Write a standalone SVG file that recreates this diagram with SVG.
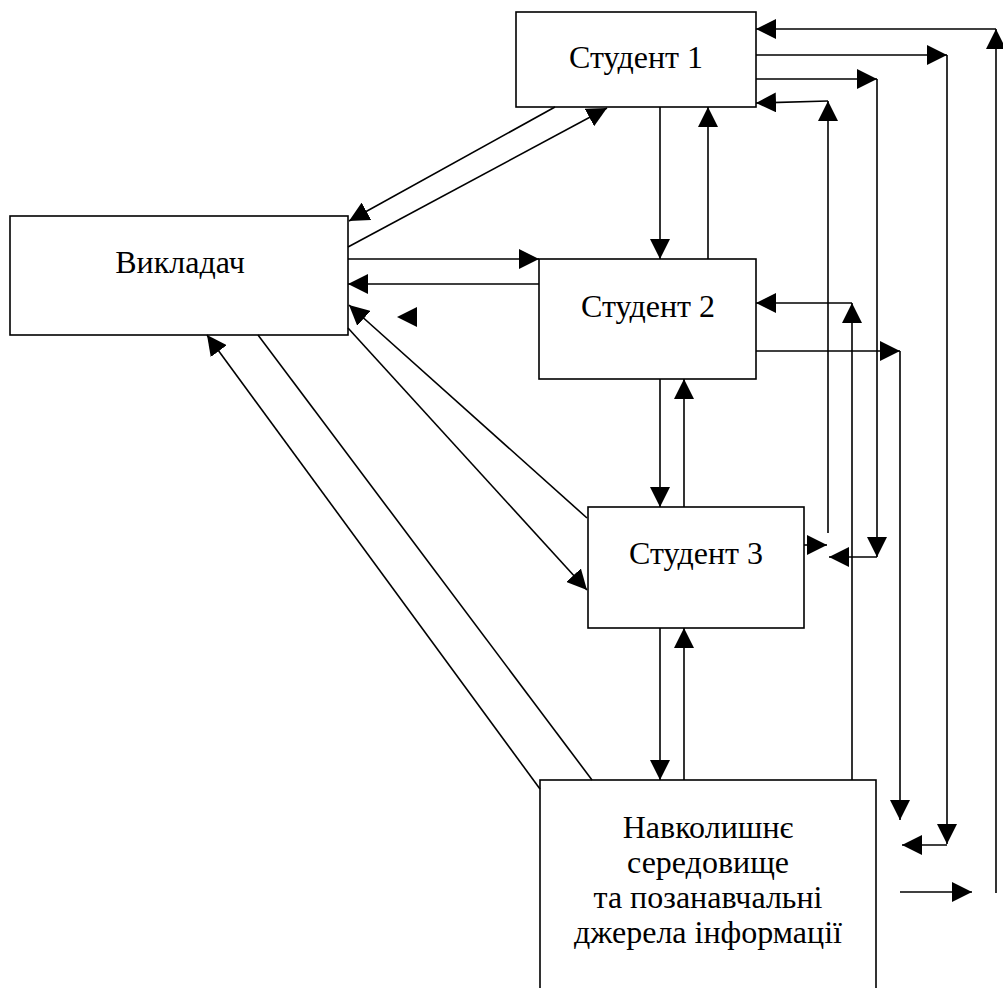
<svg xmlns="http://www.w3.org/2000/svg" width="1003" height="988" viewBox="0 0 1003 988">
<style>
.box{fill:#fff;stroke:#000;stroke-width:1.6}
.lbl{font-family:"Liberation Serif","Times New Roman","DejaVu Serif",serif;font-size:32px;fill:#000;text-anchor:middle}
.c line,.c polyline{stroke:#000;stroke-width:1.6;fill:none}
.a{marker-end:url(#ah)}
</style>
<defs>
<marker id="ah" markerUnits="userSpaceOnUse" markerWidth="20" markerHeight="20" refX="20" refY="10" viewBox="0 0 20 20" orient="auto">
<path d="M0,0 L20,10 L0,20 z" fill="#000"/>
</marker>
</defs>
<g id="student1"><rect class="box" x="516" y="12" width="240" height="95"/><text class="lbl" x="636" y="68">Студент 1</text></g>
<g id="teacher"><rect class="box" x="10" y="216" width="338" height="119"/><text class="lbl" x="180" y="273">Викладач</text></g>
<g id="student2"><rect class="box" x="539" y="259" width="217" height="120"/><text class="lbl" x="648" y="317">Студент 2</text></g>
<g id="student3"><rect class="box" x="588" y="507" width="216" height="121"/><text class="lbl" x="696" y="564">Студент 3</text></g>
<g id="environment"><rect class="box" x="540" y="780" width="336" height="220"/>
<text class="lbl" x="708" y="838">Навколишнє</text>
<text class="lbl" x="708" y="873">середовище</text>
<text class="lbl" x="708" y="908">та позанавчальні</text>
<text class="lbl" x="708" y="943">джерела інформації</text></g>
<g id="connectors" class="c">
<line class="a" x1="555" y1="107" x2="349" y2="221"/>
<line class="a" x1="348" y1="247" x2="607" y2="108"/>
<line class="a" x1="348" y1="259" x2="539" y2="259"/>
<line class="a" x1="539" y1="284" x2="348" y2="284"/>
<path d="M397,317 L417,307 L417,327 z" fill="#000"/>
<line class="a" x1="587" y1="518" x2="349" y2="305"/>
<line class="a" x1="348" y1="328" x2="587" y2="590"/>
<line class="a" x1="540" y1="789" x2="207" y2="335"/>
<line x1="592" y1="780" x2="258" y2="335"/>
<line class="a" x1="660" y1="107" x2="660" y2="259"/>
<line class="a" x1="708" y1="259" x2="708" y2="107"/>
<line class="a" x1="660" y1="379" x2="660" y2="507"/>
<line class="a" x1="684" y1="507" x2="684" y2="379"/>
<line class="a" x1="660" y1="628" x2="660" y2="780"/>
<line class="a" x1="684" y1="780" x2="684" y2="628"/>
<line class="a" x1="996" y1="893" x2="996" y2="29"/>
<line class="a" x1="996" y1="29" x2="756" y2="29"/>
<line class="a" x1="756" y1="55" x2="947" y2="55"/>
<line class="a" x1="947" y1="55" x2="947" y2="844"/>
<line class="a" x1="947" y1="845" x2="902" y2="845"/>
<line class="a" x1="756" y1="79" x2="877" y2="79"/>
<line class="a" x1="877" y1="79" x2="877" y2="557"/>
<line class="a" x1="877" y1="557" x2="829" y2="557"/>
<line class="a" x1="828" y1="533" x2="828" y2="101"/>
<line class="a" x1="828" y1="101" x2="756" y2="103"/>
<line class="a" x1="852" y1="780" x2="852" y2="303"/>
<line class="a" x1="852" y1="303" x2="756" y2="303"/>
<line class="a" x1="756" y1="351" x2="900" y2="351"/>
<line class="a" x1="900" y1="351" x2="900" y2="820"/>
<line class="a" x1="804" y1="545" x2="827" y2="545"/>
<line class="a" x1="900" y1="892" x2="972" y2="892"/>
</g>
</svg>
